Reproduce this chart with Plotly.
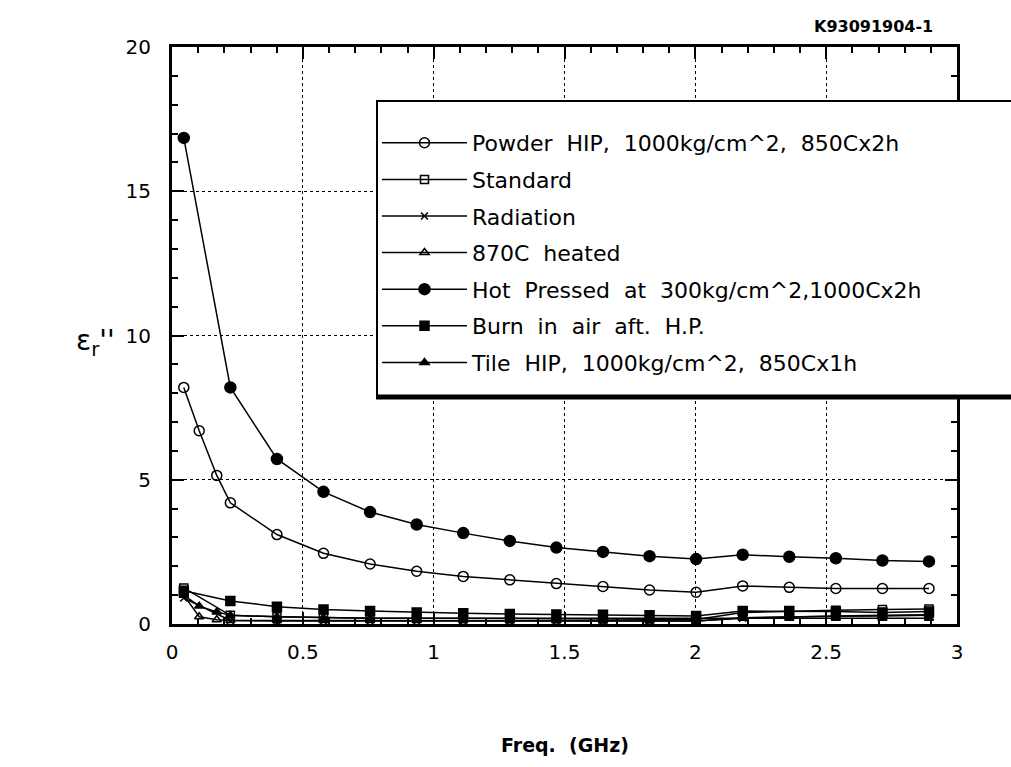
import plotly.graph_objects as go

# Frequencies (GHz)
freq_main = [0.045, 0.223, 0.401, 0.579, 0.757, 0.935, 1.113, 1.291, 1.469,
             1.647, 1.825, 2.003, 2.181, 2.359, 2.537, 2.715, 2.893]
freq_fine = [0.045, 0.104, 0.171, 0.223, 0.401, 0.579, 0.757, 0.935, 1.113, 1.291,
             1.469, 1.647, 1.825, 2.003, 2.181, 2.359, 2.537, 2.715, 2.893]

powder_hip = [8.2, 6.7, 5.15, 4.2, 3.1, 2.45, 2.08, 1.83, 1.65, 1.53, 1.4, 1.3,
              1.18, 1.1, 1.32, 1.27, 1.23, 1.23, 1.23]
standard = [1.25, 0.3, 0.25, 0.22, 0.2, 0.2, 0.19, 0.18, 0.18, 0.17, 0.17, 0.16,
            0.4, 0.45, 0.48, 0.5, 0.52]
radiation = [0.9, 0.12, 0.1, 0.1, 0.1, 0.1, 0.1, 0.1, 0.1, 0.1, 0.1, 0.1,
             0.2, 0.25, 0.28, 0.3, 0.32]
heated_870 = [1.0, 0.25, 0.15, 0.12, 0.12, 0.12, 0.12, 0.12, 0.12, 0.12, 0.12,
              0.12, 0.12, 0.1, 0.22, 0.25, 0.27, 0.28, 0.3]
hot_pressed = [16.85, 8.2, 5.72, 4.58, 3.88, 3.45, 3.15, 2.88, 2.65, 2.5, 2.35,
               2.25, 2.4, 2.33, 2.28, 2.2, 2.17]
burn_air = [1.15, 0.8, 0.6, 0.5, 0.45, 0.4, 0.37, 0.35, 0.33, 0.32, 0.3, 0.28,
            0.45, 0.45, 0.43, 0.4, 0.43]
tile_hip = [1.0, 0.62, 0.42, 0.3, 0.25, 0.22, 0.2, 0.2, 0.2, 0.2, 0.2, 0.2,
            0.2, 0.2, 0.2, 0.2, 0.2, 0.2, 0.2]

x_ticks = [0, 0.5, 1, 1.5, 2, 2.5, 3]
x_tick_text = ["0", "0.5", "1", "1.5", "2", "2.5", "3"]
y_ticks = [0, 5, 10, 15, 20]
y_tick_text = ["0", "5", "10", "15", "20"]

series = [
    ("Powder  HIP,  1000kg/cm^2,  850Cx2h", freq_fine, powder_hip, "circle-open", 10),
    ("Standard", freq_main, standard, "square-open", 8),
    ("Radiation", freq_main, radiation, "x-thin-open", 7),
    ("870C  heated", freq_fine, heated_870, "triangle-up-open", 8),
    ("Hot  Pressed  at  300kg/cm^2,1000Cx2h", freq_main, hot_pressed, "circle", 11),
    ("Burn  in  air  aft.  H.P.", freq_main, burn_air, "square", 9),
    ("Tile  HIP,  1000kg/cm^2,  850Cx1h", freq_fine, tile_hip, "triangle-up", 8),
]

FONT = "DejaVu Sans, Liberation Sans, Arial, sans-serif"

# plot-area geometry in pixels (for paper-coordinate conversions)
L, R, T, B = 172, 957, 47, 624
def px(xp):
    return (xp - L) / (R - L)
def py(yp):
    return (B - yp) / (B - T)

fig = go.Figure()
for i, (name, xs, ys, sym, sz) in enumerate(series):
    fig.add_trace(go.Scatter(
        x=xs, y=ys, name=name, mode="lines+markers",
        legendgroup=f"g{i}",
        line=dict(color="black", width=1.5),
        marker=dict(symbol=sym, size=sz, color="black",
                    line=dict(color="black", width=1.5)),
    ))

axis_common = dict(
    showline=True, linecolor="black", linewidth=3, mirror="ticks",
    ticks="inside", ticklen=12, tickwidth=2, tickcolor="black",
    showgrid=True, gridcolor="black", gridwidth=1, griddash="dot",
    zeroline=False,
    tickfont=dict(family=FONT, size=20, color="black"),
)

fig.update_xaxes(
    range=[0, 3], tickvals=x_ticks, ticktext=x_tick_text,
    minor=dict(dtick=0.1, ticks="inside", ticklen=6, tickwidth=2,
               tickcolor="black", showgrid=False),
    ticklabelstandoff=8,
    **axis_common,
)
fig.update_yaxes(
    range=[0, 20], tickvals=y_ticks, ticktext=y_tick_text,
    minor=dict(dtick=1, ticks="inside", ticklen=6, tickwidth=2,
               tickcolor="black", showgrid=False),
    ticklabelstandoff=14,
    **axis_common,
)

fig.update_layout(
    width=1011, height=767,
    margin=dict(l=L, r=1011 - R, t=T, b=767 - B),
    plot_bgcolor="white", paper_bgcolor="white",
    font=dict(family=FONT, color="black"),
    showlegend=True,
    legend=dict(
        x=px(377), y=py(122), xanchor="left", yanchor="top",
        bgcolor="rgba(0,0,0,0)", borderwidth=0,
        font=dict(family=FONT, size=22, color="black"),
        itemwidth=85, tracegroupgap=5, traceorder="grouped",
    ),
    shapes=[
        dict(type="rect", xref="paper", yref="paper", layer="above",
             x0=px(377), x1=px(1020), y0=py(398), y1=py(101),
             line=dict(color="black", width=2), fillcolor="white"),
        dict(type="line", xref="paper", yref="paper", layer="above",
             x0=px(376), x1=px(1020), y0=py(397), y1=py(397),
             line=dict(color="black", width=5)),
    ],
    annotations=[
        dict(text="K93091904-1", x=px(935), y=py(15), xref="paper", yref="paper",
             xanchor="right", showarrow=False,
             font=dict(family=FONT, size=16, color="black", weight="bold")),
        dict(text="Freq.  (GHz)", x=px(565), y=py(745), xref="paper", yref="paper",
             xanchor="center", yanchor="middle", showarrow=False,
             font=dict(family=FONT, size=19, color="black", weight="bold")),
        dict(text="ε<sub>r</sub>''", x=px(95), y=py(342), xref="paper", yref="paper",
             xanchor="center", yanchor="middle", showarrow=False,
             font=dict(family=FONT, size=28, color="black")),
    ],
)

fig.write_html("out.html")
